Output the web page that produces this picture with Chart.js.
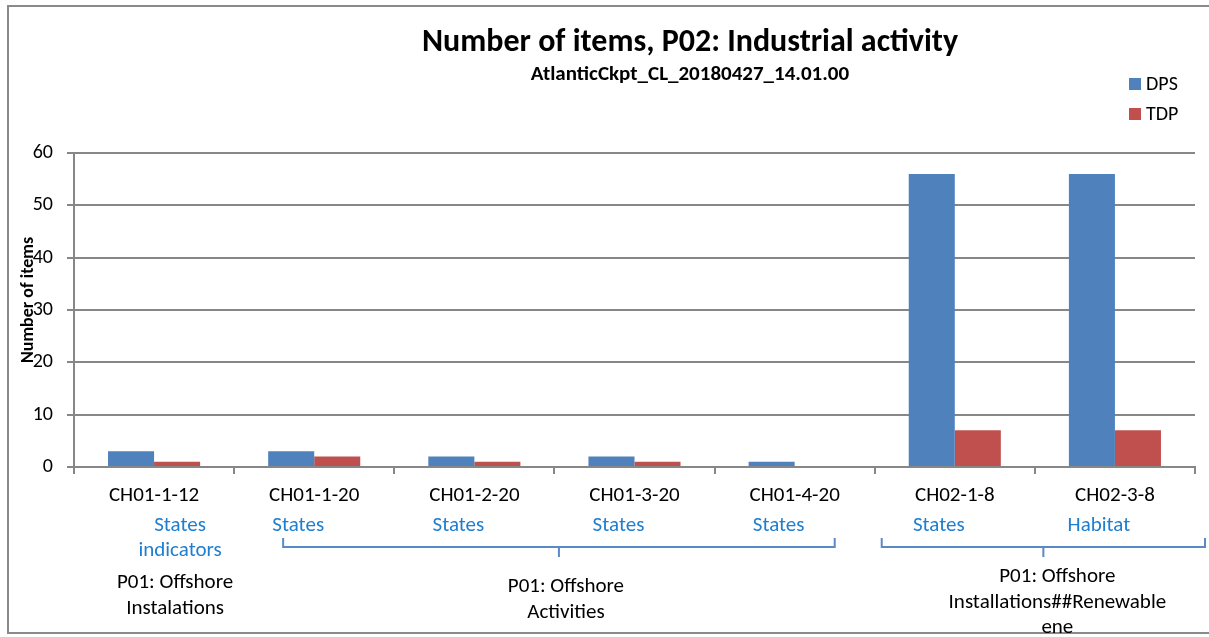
<!DOCTYPE html>
<html>
<head>
<meta charset="utf-8">
<script src="https://cdn.jsdelivr.net/npm/chart.js@4"></script>
<style>
html,body{margin:0;padding:0;background:#fff;}
#wrap{width:1209px;height:637px;position:relative;}
canvas{display:block;}
</style>
</head>
<body>
<div id="wrap"><canvas id="c" width="1209" height="637"></canvas></div>
<script>
// ---- data ----
const categories = ['CH01-1-12','CH01-1-20','CH01-2-20','CH01-3-20','CH01-4-20','CH02-1-8','CH02-3-8'];
const subLabels = [['States','indicators'],['States'],['States'],['States'],['States'],['States'],['Habitat']];
const groupLabels = [['P01: Offshore','Instalations'],['P01: Offshore','Activities'],['P01: Offshore','Installations##Renewable','ene']];
const groupStart = [0,1,5];
const groupEnd = [0,4,6];
const dpsValues = [3,3,2,2,1,56,56];
const tdpValues = [1,2,1,1,0,7,7];
const seriesNames = ['DPS','TDP'];
const titleText = 'Number of items, P02: Industrial activity';
const subtitleText = 'AtlanticCkpt_CL_20180427_14.01.00';
const yAxisTitle = 'Number of items';
const yMin = 0, yMax = 60, yStep = 10;

const FONT = 'Carlito, Calibri, Lato, "Open Sans", sans-serif';
const BLUE = '#4F81BD', RED = '#C0504D', GRID = '#878787', LBLUE = '#1F7ED0', BRACKET = '#5A8AC6';

const decor = {
  id: 'decor',
  afterDraw(chart) {
    const ctx = chart.ctx;
    const x = chart.scales.x;
    ctx.save();
    // outer frame
    ctx.strokeStyle = '#8a8a8a';
    ctx.lineWidth = 2;
    ctx.strokeRect(8, 6, 1215, 627);
    // title
    ctx.fillStyle = '#000';
    ctx.textAlign = 'center';
    ctx.textBaseline = 'middle';
    ctx.font = 'bold 32px ' + FONT;
    ctx.fillText(titleText, 690, 43);
    ctx.font = 'bold 21px ' + FONT;
    ctx.fillText(subtitleText, 690, 75);
    // legend
    const cols = [BLUE, RED];
    ctx.textAlign = 'left';
    ctx.font = '20px ' + FONT;
    seriesNames.forEach((n, i) => {
      const cy = 84 + i * 30;
      ctx.fillStyle = cols[i];
      ctx.fillRect(1129, cy - 6, 12, 12);
      ctx.fillStyle = '#000';
      ctx.fillText(n, 1146, cy + 1);
    });
    // y axis title
    ctx.save();
    ctx.translate(28, 300);
    ctx.rotate(-Math.PI / 2);
    ctx.textAlign = 'center';
    ctx.font = 'bold 18px ' + FONT;
    ctx.fillText(yAxisTitle, 0, 0);
    ctx.restore();
    // second level labels
    const half = (x.getPixelForValue(1) - x.getPixelForValue(0)) / 2;
    ctx.textAlign = 'center';
    ctx.font = '21px ' + FONT;
    ctx.fillStyle = LBLUE;
    subLabels.forEach((lines, i) => {
      const cx = x.getPixelForValue(i) + (lines.length > 1 ? 26 : -16);
      lines.forEach((t, k) => ctx.fillText(t, cx, 526 + k * 25));
    });
    // brackets and group labels
    ctx.strokeStyle = BRACKET;
    ctx.lineWidth = 2;
    groupLabels.forEach((lines, g) => {
      const s = groupStart[g], e = groupEnd[g];
      let cx;
      if (s === e) {
        cx = x.getPixelForValue(s) + 21;
      } else {
        const left = x.getPixelForValue(s) - half + (g === 1 ? 49 : 7);
        const right = x.getPixelForValue(e) + half + (g === 1 ? -40 : 10);
        const mid = (left + right) / 2;
        ctx.beginPath();
        ctx.moveTo(left, 538); ctx.lineTo(left, 547); ctx.lineTo(right, 547); ctx.lineTo(right, 538);
        ctx.moveTo(mid, 547); ctx.lineTo(mid, 557);
        ctx.stroke();
        cx = mid + (g === 1 ? 7 : 14);
      }
      ctx.fillStyle = '#000';
      const y0 = s === e ? 583 : (g === 1 ? 587 : 577);
      lines.forEach((t, k) => ctx.fillText(t, cx, y0 + k * 25.5));
    });
    ctx.restore();
  }
};

new Chart(document.getElementById('c'), {
  type: 'bar',
  data: {
    labels: categories,
    datasets: [
      { label: seriesNames[0], data: dpsValues, backgroundColor: BLUE, borderWidth: 0 },
      { label: seriesNames[1], data: tdpValues, backgroundColor: RED, borderWidth: 0 }
    ]
  },
  options: {
    responsive: false,
    animation: false,
    devicePixelRatio: 1,
    layout: { padding: { left: 0, top: 153, right: 14, bottom: 0 } },
    datasets: { bar: { categoryPercentage: 0.575, barPercentage: 1 } },
    plugins: { legend: { display: false }, title: { display: false }, tooltip: { enabled: false } },
    scales: {
      x: {
        afterFit(s) { s.height = 170; },
        grid: { offset: true, drawOnChartArea: false, drawTicks: true, tickLength: 7, color: GRID, lineWidth: 2 },
        border: { display: true, color: GRID, width: 2 },
        ticks: { color: '#000', font: { family: FONT, size: 21 }, padding: 9, maxRotation: 0, autoSkip: false }
      },
      y: {
        min: yMin, max: yMax,
        afterFit(s) { s.width = 74; },
        grid: { color: GRID, lineWidth: 2, drawTicks: true, tickLength: 7 },
        border: { display: true, color: GRID, width: 2 },
        ticks: { stepSize: yStep, color: '#000', font: { family: FONT, size: 20 }, padding: 14 }
      }
    }
  },
  plugins: [decor]
});
</script>
</body>
</html>
